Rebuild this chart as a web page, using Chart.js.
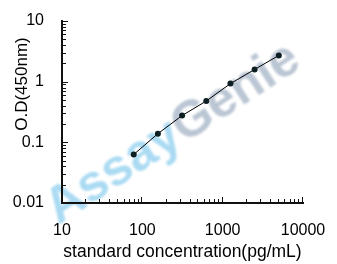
<!DOCTYPE html>
<html>
<head>
<meta charset="utf-8">
<script src="https://cdn.jsdelivr.net/npm/chart.js@4.4.1/dist/chart.umd.min.js"></script>
<style>
  html, body { margin: 0; padding: 0; background: #fff; }
  #wrap { width: 337px; height: 264px; }
</style>
</head>
<body>
<div id="wrap"><canvas id="c"></canvas></div>
<script>
// standard curve values
const concentrations = [78.125, 156.25, 312.5, 625, 1250, 2500, 5000];
const odValues = [0.063, 0.139, 0.276, 0.48, 0.93, 1.59, 2.71];
const xTickValues = [10, 100, 1000, 10000];
const yTickValues = [0.01, 0.1, 1, 10];
const xTitle = 'standard concentration(pg/mL)';
const yTitle = 'O.D(450nm)';
const watermarkParts = ['Assay', 'Genie'];

const FONT = '"Liberation Sans", Arial, sans-serif';

// watermark sits under everything, axes included
const watermark = {
  id: 'watermark',
  beforeDraw(chart) {
    const ctx = chart.ctx;
    ctx.save();
    ctx.filter = 'blur(0.8px)';
    ctx.translate(173, 134);
    ctx.rotate(-33 * Math.PI / 180);
    ctx.font = 'bold 51px ' + FONT;
    ctx.textBaseline = 'middle';
    const w0 = ctx.measureText(watermarkParts[0]).width;
    const w1 = ctx.measureText(watermarkParts[1]).width;
    let x = -(w0 + w1) / 2;
    ctx.fillStyle = 'rgba(150, 210, 240, 0.8)';
    ctx.fillText(watermarkParts[0], x, 0);
    ctx.fillStyle = 'rgba(175, 188, 204, 0.85)';
    ctx.fillText(watermarkParts[1], x + w0, 0);
    ctx.restore();
  },
};

// inward tick marks (major + minor) and the rotated y title
const innerTicks = {
  id: 'innerTicks',
  afterDraw(chart) {
    const ctx = chart.ctx;
    const xs = chart.scales.x;
    const ys = chart.scales.y;
    const area = chart.chartArea;
    ctx.save();
    ctx.strokeStyle = '#111';
    ctx.lineWidth = 1;
    ctx.beginPath();
    xTickValues.forEach((d, i) => {
      for (let m = 1; m <= 9; m++) {
        if (i === xTickValues.length - 1 && m > 1) break;
        if (i === 0 && m === 1) continue;
        const px = Math.round(xs.getPixelForValue(d * m)) - 0.5;
        const len = m === 1 ? 6 : 4;
        ctx.moveTo(px, area.bottom);
        ctx.lineTo(px, area.bottom - len);
      }
    });
    yTickValues.forEach((d, i) => {
      for (let m = 1; m <= 9; m++) {
        if (i === yTickValues.length - 1 && m > 1) break;
        if (i === 0 && m === 1) continue;
        const py = Math.round(ys.getPixelForValue(d * m)) + 0.5;
        const len = m === 1 ? 6 : 4;
        ctx.moveTo(area.left, py);
        ctx.lineTo(area.left + len, py);
      }
    });
    ctx.stroke();

    ctx.translate(27, 84);
    ctx.rotate(-Math.PI / 2);
    ctx.font = '17px ' + FONT;
    ctx.fillStyle = '#000';
    ctx.textAlign = 'center';
    ctx.textBaseline = 'alphabetic';
    ctx.fillText(yTitle, 0, 0);
    ctx.restore();
  },
};

new Chart(document.getElementById('c'), {
  type: 'line',
  data: {
    datasets: [{
      data: concentrations.map((c, i) => ({ x: c, y: odValues[i] })),
      borderColor: '#000',
      borderWidth: 1,
      backgroundColor: '#0d1f22',
      pointBackgroundColor: '#0d1f22',
      pointBorderColor: '#0d1f22',
      pointRadius: 3,
      pointBorderWidth: 0,
      tension: 0,
      fill: false,
    }],
  },
  options: {
    responsive: true,
    maintainAspectRatio: false,
    animation: false,
    layout: { padding: { top: 21, right: 34, left: 0, bottom: 0 } },
    plugins: {
      legend: { display: false },
      tooltip: { enabled: false },
    },
    scales: {
      x: {
        type: 'logarithmic',
        min: 10,
        max: 10000,
        afterBuildTicks: (axis) => { axis.ticks = xTickValues.map((v) => ({ value: v })); },
        afterFit: (axis) => {
          axis.height = 61;
          axis.paddingLeft = 0;
          axis.paddingRight = 0;
        },
        grid: { display: false, drawTicks: false },
        border: { display: true, color: '#111', width: 2 },
        ticks: {
          color: '#000',
          padding: 18,
          maxRotation: 0,
          autoSkip: false,
          font: { family: FONT, size: 16 },
          callback: (v) => String(v),
        },
        title: {
          display: true,
          text: xTitle,
          color: '#000',
          padding: { top: 0, bottom: 1 },
          font: { family: FONT, size: 17.5 },
        },
      },
      y: {
        type: 'logarithmic',
        min: 0.01,
        max: 10,
        afterBuildTicks: (axis) => { axis.ticks = yTickValues.map((v) => ({ value: v })); },
        afterFit: (axis) => {
          axis.width = 62;
          axis.paddingTop = 0;
          axis.paddingBottom = 0;
        },
        grid: { display: false, drawTicks: false },
        border: { display: true, color: '#111', width: 2 },
        ticks: {
          color: '#000',
          padding: 18,
          autoSkip: false,
          font: { family: FONT, size: 16 },
          callback: (v) => String(v),
        },
      },
    },
  },
  plugins: [watermark, innerTicks],
});
</script>
</body>
</html>
